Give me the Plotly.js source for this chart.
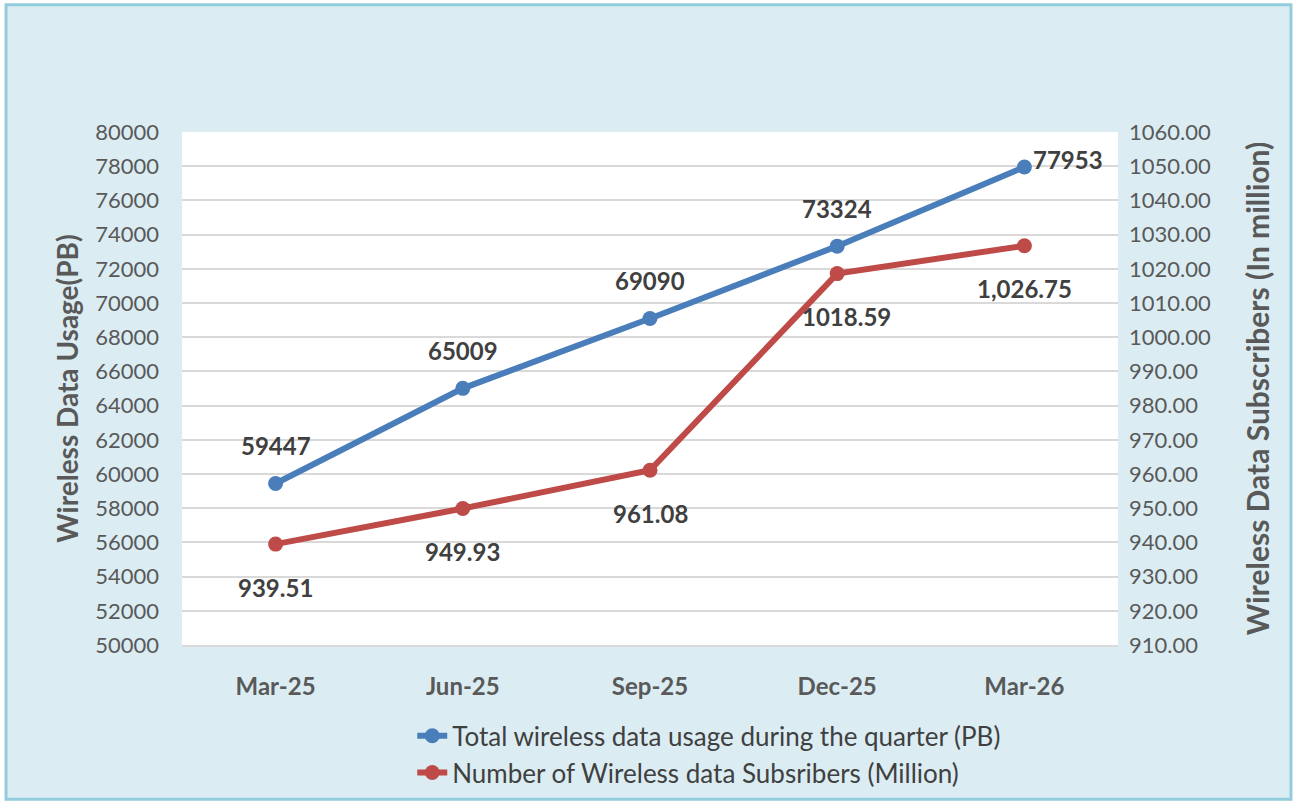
<!DOCTYPE html>
<html><head><meta charset="utf-8">
<script src="https://cdn.plot.ly/plotly-3.0.1.min.js"></script>
<style>html,body{margin:0;padding:0;background:#fff;}#chart{width:1297px;height:804px;}</style>
</head><body><div id="chart"></div>
<script>
const categories = ["Mar-25", "Jun-25", "Sep-25", "Dec-25", "Mar-26"];
const usagePB = [59447, 65009, 69090, 73324, 77953];
const subscribers = [939.51, 949.93, 961.08, 1018.59, 1026.75];
const subscriberLabels = ["939.51", "949.93", "961.08", "1018.59", "1,026.75"];

const fontFam = "Lato, 'Open Sans', sans-serif";
const blue = "#4a7ebb", red = "#be4b48";
const labelFont = {family: fontFam, size: 24, color: "#404040", weight: "bold"};

const traces = [
  {
    x: categories, y: usagePB, type: "scatter", mode: "lines+markers",
    name: "Total wireless data usage during the quarter (PB)",
    line: {color: blue, width: 6},
    marker: {color: blue, size: 15},
    cliponaxis: false
  },
  {
    x: categories, y: subscribers, type: "scatter", mode: "lines+markers",
    yaxis: "y2",
    name: "Number of Wireless data Subsribers (Million)",
    line: {color: red, width: 6},
    marker: {color: red, size: 15},
    cliponaxis: false
  }
];

const annotations = [];
usagePB.forEach((v, i) => {
  const last = i === usagePB.length - 1;
  annotations.push({
    x: categories[i], y: v, xref: "x", yref: "y", text: String(v), showarrow: false,
    font: labelFont, xanchor: last ? "left" : "center", yanchor: "middle",
    xshift: last ? 7 : 0, yshift: last ? 8 : 38
  });
});
subscribers.forEach((v, i) => {
  annotations.push({
    x: categories[i], y: v, xref: "x", yref: "y2", text: subscriberLabels[i], showarrow: false,
    font: labelFont, xanchor: "center", yanchor: "middle",
    xshift: i === 3 ? 9 : 0, yshift: -43
  });
});

const layout = {
  width: 1297, height: 804,
  paper_bgcolor: "#ffffff", plot_bgcolor: "#ffffff",
  margin: {l: 182, r: 179, t: 132, b: 159, autoexpand: false},
  font: {family: fontFam, color: "#595959"},
  showlegend: true,
  legend: {
    orientation: "v", xref: "paper", x: 0.246, xanchor: "left",
    yref: "container", y: 0.114, yanchor: "top",
    bgcolor: "rgba(0,0,0,0)", font: {size: 26, color: "#404040", family: fontFam},
    itemwidth: 30, tracegroupgap: 0
  },
  xaxis: {
    type: "category", range: [-0.5, 4.5], showgrid: false, zeroline: false,
    showline: true, linecolor: "#d9d9d9", linewidth: 2, ticks: "",
    tickfont: {size: 24, color: "#595959", family: fontFam, weight: "bold"},
    ticklabelstandoff: 19
  },
  yaxis: {
    title: {text: "Wireless Data Usage(PB)", font: {size: 28, color: "#595959", family: fontFam, weight: "bold"}, standoff: 8},
    range: [50000, 80000], dtick: 2000, tick0: 50000, tickformat: "d",
    showgrid: true, gridcolor: "#d9d9d9", gridwidth: 2, zeroline: false,
    showline: false, ticks: "",
    tickfont: {size: 22, color: "#595959", family: fontFam},
    ticklabelstandoff: 22
  },
  yaxis2: {
    title: {text: "Wireless Data Subscribers (In million)", font: {size: 30, color: "#595959", family: fontFam, weight: "bold"}, standoff: 38},
    overlaying: "y", side: "right",
    range: [910, 1060], dtick: 10, tick0: 910,
    showgrid: false, zeroline: false, showline: false, ticks: "",
    tickformat: ".2f",
    tickfont: {size: 22, color: "#595959", family: fontFam},
    ticklabelstandoff: 10
  },
  annotations: annotations,
  shapes: [
    {type: "rect", xref: "paper", yref: "paper", x0: -0.188, x1: 1.1848, y0: -0.3008, y1: 1.248,
     line: {color: "#93cddd", width: 3}, fillcolor: "#dbedf3", layer: "below"},
    {type: "rect", xref: "paper", yref: "paper", x0: 0, x1: 1, y0: 0, y1: 1,
     line: {width: 0}, fillcolor: "#ffffff", layer: "below"}
  ]
};

Plotly.newPlot("chart", traces, layout, {displayModeBar: false, staticPlot: true});
</script>
</body></html>
